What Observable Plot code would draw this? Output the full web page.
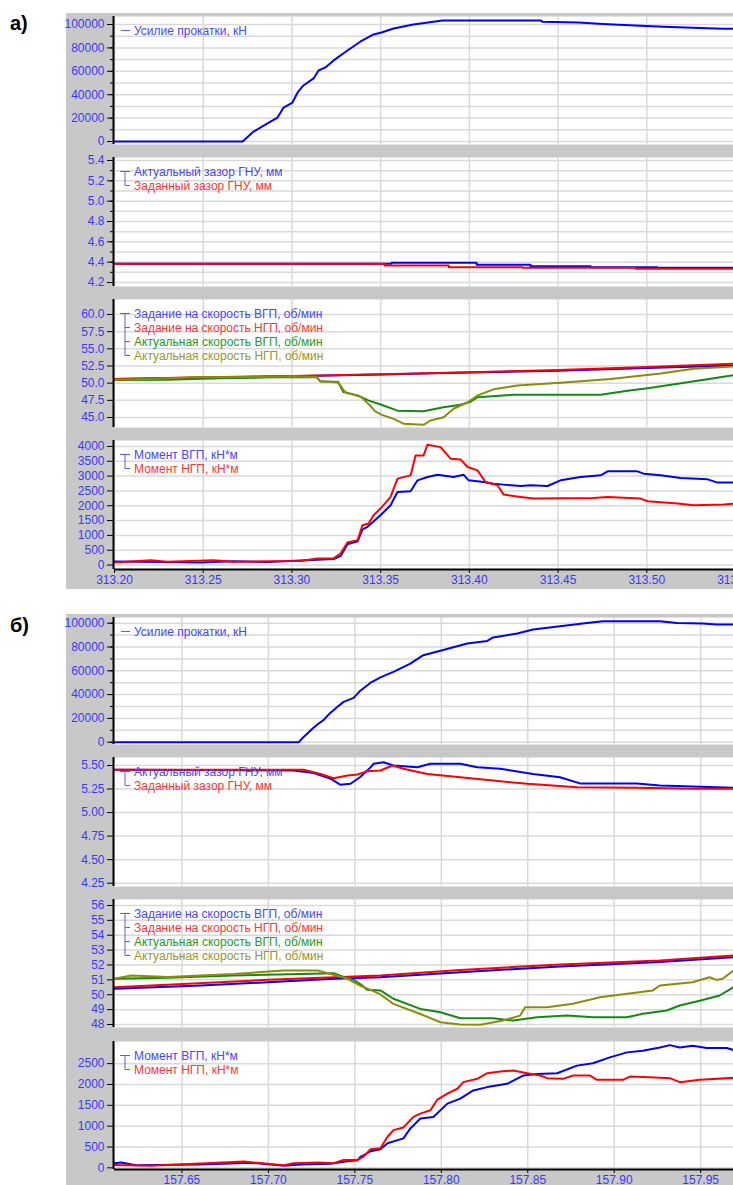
<!DOCTYPE html>
<html><head><meta charset="utf-8">
<script src="https://cdn.jsdelivr.net/npm/d3@7"></script>
<script src="https://cdn.jsdelivr.net/npm/@observablehq/plot@0.6"></script>
<style>
html,body{margin:0;padding:0;background:#fff;width:733px;height:1185px;overflow:hidden;position:relative;}
.gray{position:absolute;left:66px;width:720px;background:#c8c8c8;}
.lbl{position:absolute;left:10px;font:bold 20px "Liberation Sans",Arial,sans-serif;color:#000;}
.sub{position:absolute;left:66px;}
</style></head><body>
<div class="gray" style="top:13px;height:576px"></div>
<div class="gray" style="top:614px;height:600px"></div>
<div class="lbl" style="top:12px">а)</div>
<div class="lbl" style="top:614px">б)</div>
<div id="host"></div>
<script>
// ---------- Panel а (time 313.20 … 313.55) ----------
const xTicksA = [313.20, 313.25, 313.30, 313.35, 313.40, 313.45, 313.50, 313.55];
const forceA = [[313.2000,0],[313.2722,0],[313.2784,8500],[313.2862,15400],[313.2919,20500],[313.2953,29000],[313.3003,33300],[313.3032,41900],[313.3065,47900],[313.3122,53900],[313.3150,60700],[313.3189,63300],[313.3235,69300],[313.3313,77800],[313.3387,85500],[313.3460,91500],[313.3505,93200],[313.3573,96600],[313.3685,100000],[313.3849,103500],[313.4401,103500],[313.4413,102300],[313.4616,101700],[313.4728,100600],[313.4841,99700],[313.4965,98900],[313.5095,98000],[313.5258,97200],[313.5433,96300],[313.5500,96300]];
const gapActA = [[313.2,4.384],[313.3561,4.394],[313.4041,4.374],[313.4345,4.361],[313.4683,4.351],[313.5059,4.344],[313.55,4.344]];
const gapSetA = [[313.2,4.384],[313.3524,4.367],[313.3884,4.351],[313.4298,4.344],[313.4938,4.335],[313.55,4.335]];
const spdSetTopA = [[313.2,50.6],[313.25,50.8],[313.30,51.0],[313.35,51.25],[313.40,51.55],[313.45,51.8],[313.50,52.2],[313.55,52.6]];
const spdSetBotA = [[313.2,50.6],[313.25,50.85],[313.30,51.05],[313.35,51.3],[313.40,51.6],[313.45,51.9],[313.50,52.35],[313.55,52.85]];
const spdActTopA = [[313.2000,50.45],[313.2300,50.5],[313.2600,50.7],[313.2900,50.85],[313.3140,50.85],[313.3160,50.25],[313.3260,50.2],[313.3290,48.7],[313.3370,48.2],[313.3430,47.5],[313.3500,46.9],[313.3595,46.0],[313.3742,45.9],[313.3855,46.5],[313.3950,46.85],[313.4007,47.3],[313.4046,47.95],[313.4249,48.3],[313.4740,48.3],[313.4892,48.9],[313.5005,49.27],[313.5174,49.9],[313.5360,50.64],[313.5500,51.2]];
const spdActBotA = [[313.2000,50.5],[313.2200,50.6],[313.2450,50.85],[313.2750,50.9],[313.3000,51.0],[313.3140,50.9],[313.3160,50.3],[313.3260,50.1],[313.3300,48.7],[313.3390,48.0],[313.3440,46.75],[313.3470,45.9],[313.3500,45.45],[313.3573,44.8],[313.3629,44.1],[313.3742,43.94],[313.3781,44.56],[313.3855,45.05],[313.3911,46.27],[313.3990,47.2],[313.4046,48.2],[313.4136,49.1],[313.4272,49.66],[313.4514,50.05],[313.4796,50.6],[313.5078,51.4],[313.5264,52.1],[313.5500,52.45]];
const momTopA = [[313.2000,120],[313.2259,100],[313.2485,90],[313.2671,130],[313.2862,100],[313.3048,150],[313.3144,180],[313.3235,200],[313.3274,300],[313.3313,700],[313.3370,800],[313.3398,1200],[313.3426,1288],[313.3499,1680],[313.3556,2017],[313.3595,2464],[313.3669,2487],[313.3708,2857],[313.3764,2968],[313.3821,3048],[313.3911,2968],[313.3967,3048],[313.3996,2857],[313.4080,2800],[313.4136,2745],[313.4193,2712],[313.4289,2666],[313.4345,2689],[313.4441,2666],[313.4514,2857],[313.4627,2968],[313.4740,3025],[313.4779,3160],[313.4948,3160],[313.4982,3082],[313.5078,3025],[313.5191,2934],[313.5343,2890],[313.5399,2780],[313.5500,2780]];
const momBotA = [[313.2000,90],[313.2203,160],[313.2299,110],[313.2558,160],[313.2671,110],[313.2862,130],[313.3048,140],[313.3144,220],[313.3235,225],[313.3274,390],[313.3313,760],[313.3370,840],[313.3398,1345],[313.3432,1400],[313.3460,1680],[313.3499,1905],[313.3556,2296],[313.3595,2914],[313.3669,3025],[313.3697,3697],[313.3742,3697],[313.3764,4057],[313.3838,3977],[313.3894,3586],[313.3950,3563],[313.3990,3305],[313.4046,3193],[313.4091,2800],[313.4159,2689],[313.4193,2376],[313.4289,2296],[313.4362,2241],[313.4700,2262],[313.4779,2296],[313.4965,2241],[313.5005,2151],[313.5174,2074],[313.5264,2017],[313.5433,2040],[313.5500,2074]];

// ---------- Panel б (time 157.611 … 157.969) ----------
const xTicksB = [157.65, 157.70, 157.75, 157.80, 157.85, 157.90, 157.95];
const forceB = [[157.6110,0],[157.7175,0],[157.7204,4450],[157.7256,11500],[157.7285,15100],[157.7319,18500],[157.7348,23200],[157.7400,29700],[157.7435,33900],[157.7493,37200],[157.7533,43500],[157.7573,47900],[157.7591,50000],[157.7619,52100],[157.7648,54500],[157.7723,59100],[157.7821,66100],[157.7896,73100],[157.8006,77300],[157.8150,82900],[157.8266,85100],[157.8300,88000],[157.8439,91300],[157.8531,94700],[157.8687,97500],[157.8843,100200],[157.8935,101700],[157.9264,101700],[157.9362,100200],[157.9512,99700],[157.9592,98900],[157.9690,98900]];
const gapActB = [[157.611,5.455],[157.7146,5.447],[157.7262,5.42],[157.7360,5.36],[157.7417,5.295],[157.7475,5.306],[157.7533,5.38],[157.7591,5.48],[157.7608,5.518],[157.7666,5.535],[157.7723,5.50],[157.7862,5.482],[157.7937,5.518],[157.8110,5.518],[157.8208,5.482],[157.8341,5.465],[157.8531,5.41],[157.8687,5.376],[157.8802,5.31],[157.9131,5.31],[157.9264,5.288],[157.9454,5.278],[157.9690,5.264]];
const gapSetB = [[157.611,5.454],[157.7204,5.454],[157.7302,5.41],[157.7377,5.365],[157.7458,5.394],[157.7516,5.405],[157.7573,5.44],[157.7648,5.447],[157.7718,5.50],[157.7781,5.465],[157.7920,5.41],[157.8110,5.376],[157.8300,5.34],[157.8497,5.306],[157.8785,5.27],[157.9131,5.264],[157.9454,5.253],[157.9690,5.253]];
const spdSetTopB = [[157.611,50.4],[157.661,50.62],[157.6996,50.84],[157.7377,51.07],[157.7648,51.18],[157.811,51.52],[157.8687,51.9],[157.9264,52.2],[157.969,52.52]];
const spdSetBotB = [[157.611,50.51],[157.6996,51.0],[157.7648,51.29],[157.811,51.67],[157.8687,52.03],[157.9264,52.3],[157.969,52.64]];
const spdActTopB = [[157.611,51.07],[157.6419,51.14],[157.68,51.29],[157.7187,51.4],[157.7377,51.45],[157.7435,51.2],[157.7493,51.0],[157.7533,50.7],[157.7573,50.33],[157.7648,50.29],[157.7723,49.73],[157.7879,49.05],[157.7995,48.83],[157.811,48.42],[157.83,48.42],[157.8416,48.27],[157.8554,48.49],[157.8727,48.6],[157.8877,48.49],[157.9074,48.49],[157.9166,48.72],[157.9304,48.94],[157.9379,49.28],[157.9495,49.6],[157.961,49.95],[157.969,50.51]];
const spdActBotB = [[157.611,51.07],[157.6206,51.29],[157.6419,51.2],[157.68,51.4],[157.7089,51.63],[157.7285,51.63],[157.736,51.4],[157.7458,51.07],[157.7533,50.6],[157.7591,50.33],[157.7648,50.02],[157.7723,49.39],[157.7879,48.71],[157.7995,48.15],[157.811,48.0],[157.8225,47.98],[157.8358,48.27],[157.8456,48.6],[157.8485,49.16],[157.8612,49.16],[157.8762,49.39],[157.8918,49.83],[157.9074,50.06],[157.9224,50.29],[157.9264,50.62],[157.9454,50.84],[157.9552,51.18],[157.9592,51.0],[157.9627,51.07],[157.969,51.63]];
const momTopB = [[157.611,110],[157.6148,130],[157.6235,60],[157.661,80],[157.6898,120],[157.7089,50],[157.7187,80],[157.736,100],[157.7446,150],[157.7516,180],[157.7533,270],[157.755,300],[157.7591,400],[157.7648,445],[157.7689,588],[157.7781,706],[157.7821,945],[157.7879,1183],[157.7954,1222],[157.8035,1540],[157.811,1659],[157.8185,1857],[157.8266,1937],[157.8381,2016],[157.8473,2214],[157.8554,2254],[157.867,2270],[157.8785,2452],[157.8877,2508],[157.8975,2650],[157.9074,2770],[157.9166,2810],[157.9264,2889],[157.9322,2944],[157.9379,2889],[157.9454,2929],[157.9535,2873],[157.9651,2873],[157.969,2826]];
const momBotB = [[157.611,70],[157.6177,60],[157.6321,50],[157.6858,150],[157.7089,60],[157.7146,110],[157.7285,126],[157.7377,111],[157.7435,190],[157.7516,190],[157.755,269],[157.7591,445],[157.7648,468],[157.7689,746],[157.7723,905],[157.7781,968],[157.7839,1222],[157.7879,1301],[157.7937,1381],[157.7977,1635],[157.8035,1778],[157.8093,1897],[157.8127,2056],[157.8208,2135],[157.8266,2270],[157.8341,2310],[157.8416,2333],[157.8497,2270],[157.8572,2214],[157.8612,2151],[157.8704,2135],[157.8762,2214],[157.886,2214],[157.89,2111],[157.905,2111],[157.9091,2190],[157.9206,2175],[157.9322,2151],[157.9379,2056],[157.9495,2111],[157.969,2159]];

// ---------- y ticks ----------
const forceTicks = [0, 20000, 40000, 60000, 80000, 100000];
const forceGrid = [0,10000,20000,30000,40000,50000,60000,70000,80000,90000,100000];
const gapTicksA = [4.2, 4.4, 4.6, 4.8, 5.0, 5.2, 5.4];
const gapGridA = [4.2,4.3,4.4,4.5,4.6,4.7,4.8,4.9,5.0,5.1,5.2,5.3,5.4];
const spdTicksA = [45, 47.5, 50, 52.5, 55, 57.5, 60];
const momTicksA = [0, 500, 1000, 1500, 2000, 2500, 3000, 3500, 4000];
const gapTicksB = [4.25, 4.5, 4.75, 5.0, 5.25, 5.5];
const spdTicksB = [48, 49, 50, 51, 52, 53, 54, 55, 56];
const momTicksB = [0, 500, 1000, 1500, 2000, 2500];

// ---------- legends ----------
const legForce = ["Усилие прокатки, кН"];
const legGap = ["Актуальный зазор ГНУ, мм", "Заданный зазор ГНУ, мм"];
const legSpd = ["Задание на скорость ВГП, об/мин", "Задание на скорость НГП, об/мин", "Актуальная скорость ВГП, об/мин", "Актуальная скорость НГП, об/мин"];
const legMom = ["Момент ВГП, кН*м", "Момент НГП, кН*м"];

const C = {blue: "#0000ff", red: "#ff0000", green: "#138a13", olive: "#8c8c0a"};
const TXT = {blue: "#4646ff", red: "#ff3333", green: "#239a23", olive: "#96962a"};
const TICK = "#3838ff", GRID = "#d9d9d9";
const FONT = '"Liberation Sans", Arial, sans-serif';

const host = document.getElementById("host");

function sub(o) {
  const mt = 10, mb = o.xAxis ? 24 : 6;
  const H = o.bottom - o.top + mt + mb;
  const marks = [
    Plot.frame({fill: "white", stroke: null}),
    Plot.gridY(o.yGrid, {stroke: GRID, strokeOpacity: 1, strokeWidth: 1.5}),
    Plot.gridX(o.xTicks, {stroke: GRID, strokeOpacity: 1, strokeWidth: 1.5}),
    ...o.series.map(s => Plot.line(s.data, {x: d => d[0], y: d => d[1], stroke: s.color, strokeWidth: 2, curve: s.curve || "linear", clip: true})),
    Plot.ruleX([o.xDomain[0]], {stroke: "black", strokeWidth: 2, dx: -1})
  ];
  if (o.yMinor) marks.push(Plot.axisY({ticks: o.yMinor, tickSize: 4, tickFormat: () => "", stroke: "black", strokeWidth: 1}));
  marks.push(Plot.axisY({ticks: o.yTicks, tickSize: 7, tickPadding: 3, tickFormat: o.fmt, fill: TICK, stroke: "black", fontSize: 12}));
  if (o.xAxis) {
    marks.push(Plot.ruleY([o.yDomain[0]], {stroke: "black", strokeWidth: 2}));
    marks.push(Plot.axisX({ticks: o.xTicks, tickSize: 4, tickPadding: 2, tickFormat: d3.format(".2f"), fill: TICK, stroke: "black", fontSize: 12}));
  }
  const svg = Plot.plot({
    width: o.width, height: H,
    marginLeft: 48, marginRight: 0, marginTop: mt, marginBottom: mb,
    x: {domain: o.xDomain, axis: null},
    y: {domain: o.yDomain, axis: null},
    style: {background: "transparent", overflow: "visible", maxWidth: "none", fontFamily: FONT, fontSize: "12px"},
    marks
  });
  svg.classList.add("sub");
  svg.style.position = "absolute";
  svg.style.left = "66px";
  svg.style.top = (o.top - mt) + "px";
  // legend
  const g = d3.select(svg).append("g").attr("font-family", FONT).attr("font-size", 12).attr("text-anchor", "start");
  const x0 = 48, y0 = mt;
  const ys = o.legend.map((d, i) => y0 + 14.5 + i * 14);
  const bc = "#5a5aff";
  if (o.legend.length === 1) {
    g.append("line").attr("x1", x0 + 7).attr("x2", x0 + 16).attr("y1", ys[0]).attr("y2", ys[0]).attr("stroke", bc).attr("stroke-width", 1);
  } else {
    g.append("line").attr("x1", x0 + 6).attr("x2", x0 + 16).attr("y1", ys[0]).attr("y2", ys[0]).attr("stroke", bc);
    g.append("line").attr("x1", x0 + 11).attr("x2", x0 + 11).attr("y1", ys[0]).attr("y2", ys[ys.length - 1]).attr("stroke", bc);
    ys.slice(1).forEach(y => g.append("line").attr("x1", x0 + 11).attr("x2", x0 + 16).attr("y1", y).attr("y2", y).attr("stroke", bc));
  }
  o.legend.forEach((t, i) => g.append("text").attr("x", x0 + 20).attr("y", ys[i]).attr("dy", "0.35em").attr("text-anchor", "start").attr("fill", o.series[i].text).text(t));
  host.appendChild(svg);
}

const dA = [313.2, 313.55], wA = 669;
const dB = [157.611, 157.969], wB = 667;

sub({top: 16, bottom: 144, xDomain: dA, width: wA, xTicks: xTicksA, yDomain: [-2564, 106838], yTicks: forceTicks, yGrid: forceGrid, yMinor: forceGrid, fmt: d3.format("d"),
  series: [{data: forceA, color: C.blue, text: TXT.blue}], legend: legForce});
sub({top: 157, bottom: 286, xDomain: dA, width: wA, xTicks: xTicksA, yDomain: [4.1607, 5.4295], yTicks: gapTicksA, yGrid: gapGridA, yMinor: gapGridA, fmt: d3.format(".1f"),
  series: [{data: gapActA, color: C.blue, text: TXT.blue, curve: "step-after"}, {data: gapSetA, color: C.red, text: TXT.red, curve: "step-after"}], legend: legGap});
sub({top: 299, bottom: 427, xDomain: dA, width: wA, xTicks: xTicksA, yDomain: [43.544, 62.184], yTicks: spdTicksA, yGrid: spdTicksA, fmt: d3.format(".1f"),
  series: [{data: spdSetTopA, color: C.blue, text: TXT.blue}, {data: spdSetBotA, color: C.red, text: TXT.red}, {data: spdActTopA, color: C.green, text: TXT.green}, {data: spdActBotA, color: C.olive, text: TXT.olive}], legend: legSpd});
sub({top: 440, bottom: 569, xDomain: dA, width: wA, xTicks: xTicksA, yDomain: [-150, 4200], yTicks: momTicksA, yGrid: momTicksA, fmt: d3.format("d"), xAxis: true,
  series: [{data: momTopA, color: C.blue, text: TXT.blue}, {data: momBotA, color: C.red, text: TXT.red}], legend: legMom});

sub({top: 617, bottom: 744, xDomain: dB, width: wB, xTicks: xTicksB, yDomain: [-1930, 104790], yTicks: forceTicks, yGrid: forceGrid, yMinor: forceGrid, fmt: d3.format("d"),
  series: [{data: forceB, color: C.blue, text: TXT.blue}], legend: legForce});
sub({top: 757, bottom: 886, xDomain: dB, width: wB, xTicks: xTicksB, yDomain: [4.215, 5.585], yTicks: gapTicksB, yGrid: gapTicksB, fmt: d3.format(".2f"),
  series: [{data: gapActB, color: C.blue, text: TXT.blue}, {data: gapSetB, color: C.red, text: TXT.red}], legend: legGap});
sub({top: 899, bottom: 1027, xDomain: dB, width: wB, xTicks: xTicksB, yDomain: [47.80, 56.40], yTicks: spdTicksB, yGrid: spdTicksB, fmt: d3.format("d"),
  series: [{data: spdSetTopB, color: C.blue, text: TXT.blue}, {data: spdSetBotB, color: C.red, text: TXT.red}, {data: spdActTopB, color: C.green, text: TXT.green}, {data: spdActBotB, color: C.olive, text: TXT.olive}], legend: legSpd});
sub({top: 1041, bottom: 1169, xDomain: dB, width: wB, xTicks: xTicksB, yDomain: [-40, 3031], yTicks: momTicksB, yGrid: momTicksB, fmt: d3.format("d"), xAxis: true,
  series: [{data: momTopB, color: C.blue, text: TXT.blue}, {data: momBotB, color: C.red, text: TXT.red}], legend: legMom});
</script>
</body></html>
